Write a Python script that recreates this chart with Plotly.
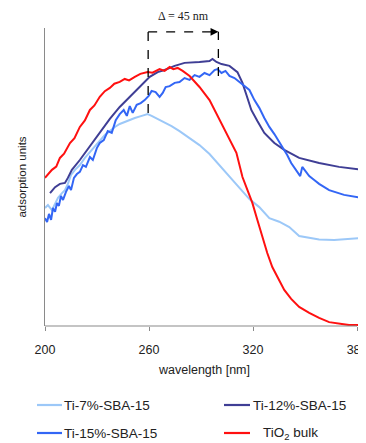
import plotly.graph_objects as go

# ---- data ----
tio2_x = [200, 204, 206.5, 208.6, 211, 214.4, 217, 220.1, 223, 225.9, 228.5, 231.6, 234.5, 237.4, 240, 243.1, 246, 248.5, 251.8, 255,
          259.2, 262, 266.1, 269, 271.9, 274, 276.5, 279.4, 283.4, 286, 289.1, 294.9, 300.6, 306.4, 310.4, 313.9,
          316.7, 319.6, 322.5, 325.4, 328.2, 331.1, 335.1, 338, 342, 346.6, 352.4, 358.1, 363.9, 369.6, 375.4, 383]
tio2_y = [49.7, 52.4, 53.5, 56.4, 57.8, 61.4, 63.0, 66.8, 69.0, 72.5, 74.0, 76.9, 78.8, 79.9, 81.3, 81.9, 82.9, 82.4, 83.6, 84.6,
          85.2, 85.0, 86.2, 85.6, 86.9, 86.2, 86.6, 85.6, 83.9, 82.3, 80.2, 75.8, 69.1, 62.4, 58.1, 50.0,
          45.6, 41.3, 35.6, 29.9, 24.5, 19.8, 15.1, 12.1, 9.1, 6.4, 4.4, 2.7, 1.3, 0.7, 0.3, 0.3]

ti12_x = [202.9, 205.8, 208.6, 211.5, 213.2, 215.5, 220.1, 225.9, 231.6, 237.4, 243.1, 248.9, 254.6, 260.4, 265,
          269, 274.8, 280.5, 289.1, 294.9, 296.6, 298.9, 301.8, 306.4, 311, 313.9, 316.2, 319, 322.5, 326.5,
          332.3, 338, 346.6, 358.1, 369.6, 383]
ti12_y = [44.6, 46.6, 47.7, 48.0, 49.7, 52.4, 55.7, 60.4, 64.8, 69.5, 73.5, 76.9, 79.9, 83.6, 85.2,
          85.9, 87.3, 88.3, 88.6, 88.9, 89.6, 88.6, 87.9, 87.3, 85.2, 81.6, 77.5, 72.5, 68.8, 64.8,
          61.4, 59.1, 56.4, 54.7, 53.4, 52.4]

ti15_x = [200, 201.2, 202.3, 203.5, 204.6, 205.8, 206.9, 208, 209.2, 210.4, 212.1, 213.8, 215, 216.7, 218.4, 220.1,
          221.9, 223.6, 225.9, 227.6, 229.9, 231.6, 233.9, 236.2, 238.5, 240.8, 243.1, 245.4, 247.2, 248.9,
          250.6, 252.9, 255.2, 257.5, 259.8, 261.5, 263.8, 266.1, 267.9, 269.6, 271.9, 274.8, 277.6, 280.5,
          283.4, 286.3, 289.1, 292, 294.9, 297.8, 299.5, 301.8, 304.1, 306.4, 309.3, 312.1, 315, 317.9, 320.8,
          323.6, 326.5, 329.4, 332.3, 335.1, 338, 339.7, 342, 344.9, 347.2, 348.4, 350.1, 352.4, 355.3, 358.1,
          363.9, 372.5, 383]
ti15_y = [36.2, 34.9, 37.6, 35.6, 39.6, 38.3, 41.3, 40.3, 43.6, 42.3, 45.0, 47.0, 45.6, 49.7, 51.0, 51.7,
          54.0, 53.4, 56.7, 55.7, 59.7, 61.4, 62.4, 65.4, 64.8, 69.1, 71.1, 72.5, 70.5, 73.8,
          71.5, 74.2, 74.8, 75.8, 77.2, 78.9, 78.5, 76.9, 78.2, 80.2, 80.5, 81.6, 81.9, 83.2,
          82.6, 84.2, 83.6, 84.9, 84.2, 85.9, 86.2, 84.9, 85.6, 83.9, 83.2, 81.9, 80.5, 79.2, 75.8,
          73.2, 69.8, 66.8, 64.4, 61.8, 59.1, 57.4, 54.7, 52.0, 50.3, 53.4, 52.0, 50.3, 49.0, 47.7,
          45.6, 44.0, 43.0]

ti7_x = [200, 201.7, 204, 205.8, 207.5, 209.8, 211.5, 213.2, 215, 217.3, 220.1, 223, 225.9, 228.8, 231.6, 234.5,
         237.4, 240.3, 243.1, 247.2, 251.8, 255.8, 259.2, 261.5, 265, 269, 273, 277.6, 283.4, 289.1, 294.9,
         300.6, 306.4, 312.1, 317.9, 323.6, 329.4, 335.1, 340.9, 346.6, 352.4, 358.1, 366.8, 375.4, 383]
ti7_y = [39.6, 40.6, 38.9, 41.3, 43.0, 44.6, 45.6, 47.7, 50.7, 52.4, 54.0, 56.4, 58.4, 60.4, 62.4, 64.1,
         65.4, 66.8, 67.8, 68.8, 69.8, 70.5, 71.1, 70.5, 69.5, 68.5, 67.1, 65.4, 63.1, 60.7, 57.7,
         54.0, 50.0, 46.3, 42.6, 39.9, 36.2, 35.0, 33.2, 30.2, 29.5, 29.0, 28.9, 29.2, 29.5]

x_ticks = [200, 260, 320, 380]
delta_left, delta_right = 259.5, 300.0

series_names = ["Ti-7%-SBA-15", "Ti-12%-SBA-15", "Ti-15%-SBA-15", "TiO<sub>2</sub> bulk"]
series_colors = ["#9CC8F8", "#3F3E95", "#3366F5", "#FF1010"]

FONT = "Liberation Sans, Arial, sans-serif"

# page body has an 8px margin: the figure itself is 358x435
W, H = 358, 435
ML, MR, MT, MB = 37, 2, 20, 117
PW, PH = W - ML - MR, H - MT - MB


def px_x(px):  # page px -> paper x
    return (px - 8 - ML) / PW


def px_y(py):  # page px -> paper y
    return (H - MB - (py - 8)) / PH


fig = go.Figure()
for xs, ys, name, col in [(ti7_x, ti7_y, series_names[0], series_colors[0]),
                          (ti12_x, ti12_y, series_names[1], series_colors[1]),
                          (ti15_x, ti15_y, series_names[2], series_colors[2]),
                          (tio2_x, tio2_y, series_names[3], series_colors[3])]:
    fig.add_trace(go.Scatter(x=xs, y=ys, mode="lines", name=name, showlegend=False,
                             line=dict(color=col, width=2)))

# x axis baseline
fig.add_shape(type="line", xref="x", yref="paper", x0=200, x1=380, y0=0, y1=0,
              line=dict(color="#8a8a8a", width=1.2))

# delta bracket
top = 98.7
dash = dict(color="black", width=1.3, dash="dash")
fig.add_shape(type="line", x0=delta_left, x1=delta_left, y0=71.5, y1=top, line=dash)
fig.add_shape(type="line", x0=delta_right, x1=delta_right, y0=83.9, y1=top, line=dash)
fig.add_shape(type="line", x0=delta_left, x1=delta_right - 1.5, y0=top, y1=top, line=dash)
fig.add_annotation(x=delta_right, y=top, ax=delta_right - 4, ay=top, axref="x", ayref="y",
                   xref="x", yref="y", showarrow=True, arrowhead=2, arrowsize=1.2,
                   arrowwidth=1.3, arrowcolor="black", text="")
fig.add_annotation(x=(delta_left + delta_right) / 2, y=px_y(16), xref="x", yref="paper",
                   text="\u0394 = 45 nm", showarrow=False, yanchor="middle",
                   font=dict(family="Liberation Serif, Times New Roman, serif", size=12, color="#222"))

# manual two-column legend
leg_rows = [px_y(405), px_y(405), px_y(433), px_y(433)]
leg_line_x0 = [px_x(37), px_x(224), px_x(37), px_x(224)]
leg_line_x1 = [px_x(62), px_x(250), px_x(62), px_x(250)]
leg_text_x = [px_x(62), px_x(251), px_x(62), px_x(261)]
for i in range(4):
    fig.add_shape(type="line", xref="paper", yref="paper", x0=leg_line_x0[i], x1=leg_line_x1[i],
                  y0=leg_rows[i], y1=leg_rows[i], line=dict(color=series_colors[i], width=2.2))
    fig.add_annotation(x=leg_text_x[i], y=leg_rows[i], xref="paper", yref="paper",
                       text=series_names[i], showarrow=False, xanchor="left", yanchor="middle",
                       font=dict(family=FONT, size=13.5, color="#222"))

fig.update_layout(
    width=W, height=H,
    margin=dict(l=ML, r=MR, t=MT, b=MB),
    paper_bgcolor="white", plot_bgcolor="white",
    showlegend=False,
    font=dict(family=FONT, color="#222"),
    xaxis=dict(range=[200, 384], tickvals=x_ticks, ticks="outside", ticklen=4,
               tickcolor="#8a8a8a", showline=False, showgrid=False, zeroline=False,
               automargin=False, ticklabeloverflow="allow", ticklabelstandoff=8,
               tickfont=dict(size=12.5, color="#222"),
               title=dict(text="wavelength [nm]", font=dict(size=12.5, color="#222"), standoff=9)),
    yaxis=dict(range=[0, 100], showticklabels=False, ticks="", showline=True,
               linecolor="#8a8a8a", linewidth=1.2, showgrid=False, zeroline=False,
               automargin=False,
               title=dict(text="adsorption units", font=dict(size=11.5, color="#222"), standoff=14)),
)

fig.write_html("out.html")
